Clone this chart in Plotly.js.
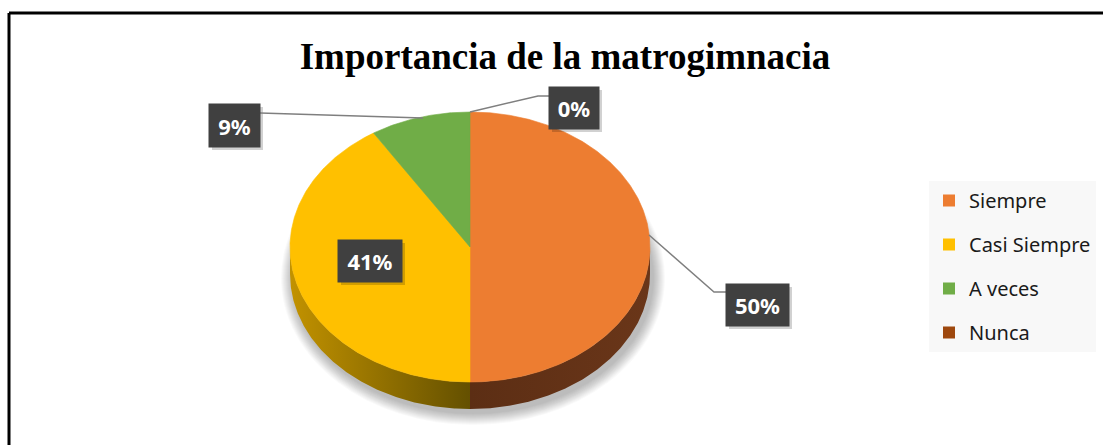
<!DOCTYPE html>
<html>
<head>
<meta charset="utf-8">
<script src="https://cdn.plot.ly/plotly-3.0.1.min.js"></script>
<style>html,body{margin:0;padding:0;background:#fff;}#chart{width:1103px;height:445px;}</style>
</head>
<body>
<div id="chart"></div>
<script>
const categories = ['Siempre', 'Casi Siempre', 'A veces', 'Nunca'];
const values = [50, 41, 9, 0];
const valueLabels = ['50%', '41%', '9%', '0%'];
const topColors = ['#ED7D31', '#FFC000', '#70AD47', '#9E480E'];
const sideColorsLight = ['#6A3619', '#C29200', '#4A7530', '#6A300A'];
const sideColorsDark = ['#5C2E14', '#645000', '#3A5C25', '#5A2808'];
const chartTitle = 'Importancia de la matrogimnacia';

// geometry (pixel space == data space)
const W = 1103, H = 445;
const cx = 470, cy = 247, rx = 180, ry = 135, depth = 27;

function pt(deg, dy) {
  const r = deg * Math.PI / 180;
  return [cx + rx * Math.sin(r), cy - ry * Math.cos(r) + (dy || 0)];
}

const total = values.reduce((a, b) => a + b, 0);
const starts = [], ends = [];
let acc = 0;
values.forEach(v => { starts.push(acc / total * 360); acc += v; ends.push(acc / total * 360); });

const traces = [];

// side walls (front half: 90..270 deg)
values.forEach((v, i) => {
  const a = Math.max(starts[i], 90), b = Math.min(ends[i], 270);
  if (v <= 0 || b <= a) return;
  const xs = [], ys = [];
  for (let d = a; d <= b + 1e-9; d += 0.5) { const p = pt(Math.min(d, b)); xs.push(p[0]); ys.push(p[1]); }
  for (let d = b; d >= a - 1e-9; d -= 0.5) { const p = pt(Math.max(d, a), depth); xs.push(p[0]); ys.push(p[1]); }
  xs.push(xs[0]); ys.push(ys[0]);
  const leftIsLight = (a + b) / 2 > 180;
  traces.push({
    type: 'scatter', mode: 'lines', x: xs, y: ys, fill: 'toself',
    fillgradient: {
      type: 'horizontal',
      colorscale: leftIsLight ? [[0, sideColorsLight[i]], [1, sideColorsDark[i]]]
                              : [[0, sideColorsDark[i]], [1, sideColorsLight[i]]]
    },
    line: { width: 0 }, hoverinfo: 'skip', showlegend: false
  });
});

// top faces
values.forEach((v, i) => {
  if (v <= 0) return;
  const xs = [cx], ys = [cy];
  for (let d = starts[i]; d <= ends[i] + 1e-9; d += 0.5) { const p = pt(Math.min(d, ends[i])); xs.push(p[0]); ys.push(p[1]); }
  const pe = pt(ends[i]); xs.push(pe[0]); ys.push(pe[1]);
  xs.push(cx); ys.push(cy);
  traces.push({
    type: 'scatter', mode: 'lines', x: xs, y: ys, fill: 'toself',
    fillcolor: topColors[i], line: { width: 0.6, color: topColors[i] },
    name: categories[i], hoverinfo: 'name', showlegend: false
  });
});

// legend entries
categories.forEach((c, i) => {
  traces.push({
    type: 'scatter', mode: 'markers', x: [null], y: [null], name: c,
    legendgroup: 'g' + i,
    marker: { symbol: 'square', size: 14, color: topColors[i] }, showlegend: true
  });
});

// label boxes
const labelBoxes = [
  { cxp: 757.5, cyp: 305, w: 63, h: 42 },
  { cxp: 370, cyp: 261, w: 64, h: 42 },
  { cxp: 234.5, cyp: 125.5, w: 51, h: 43 },
  { cxp: 574, cyp: 108, w: 50, h: 42 }
];

const annotations = valueLabels.map((t, i) => ({
  xref: 'x', yref: 'y', x: labelBoxes[i].cxp, y: labelBoxes[i].cyp,
  text: '<b>' + t + '</b>', showarrow: false,
  width: labelBoxes[i].w, height: labelBoxes[i].h, borderpad: 0,
  bgcolor: '#404040', font: { family: 'Noto Sans', size: 22, color: '#ffffff' },
  xanchor: 'center', yanchor: 'middle', align: 'center', valign: 'middle'
}));

const shapes = [];
// soft shadow under the pie
for (let k = 12; k >= 1; k -= 1) {
  shapes.push({
    type: 'circle', xref: 'x', yref: 'y', layer: 'below',
    x0: cx + 3 - rx - k, x1: cx + 3 + rx + k, y0: cy + depth + 4 - ry - k, y1: cy + depth + 4 + ry + k,
    fillcolor: 'rgba(0,0,0,0.022)', line: { width: 0 }
  });
}
// label box drop shadows
labelBoxes.forEach(b => {
  shapes.push({
    type: 'rect', xref: 'x', yref: 'y', layer: 'above',
    x0: b.cxp - b.w / 2 + 3, x1: b.cxp + b.w / 2 + 3, y0: b.cyp - b.h / 2 + 3, y1: b.cyp + b.h / 2 + 3,
    fillcolor: 'rgba(0,0,0,0.18)', line: { width: 0 }
  });
});
// leader lines
const lead = { type: 'path', xref: 'x', yref: 'y', layer: 'above', line: { color: '#7f7f7f', width: 1.5 } };
shapes.push(Object.assign({}, lead, { path: 'M649,235 L714,292 L726,292' }));
shapes.push(Object.assign({}, lead, { path: 'M260,113 L423,118' }));
shapes.push(Object.assign({}, lead, { path: 'M470,112 L538,96 L549,96' }));
// outer frame (top and left)
shapes.push({ type: 'line', xref: 'x', yref: 'y', x0: 9, x1: W, y0: 13, y1: 13, line: { color: '#000', width: 3 } });
shapes.push({ type: 'line', xref: 'x', yref: 'y', x0: 9, x1: 9, y0: 13, y1: H, line: { color: '#000', width: 3 } });

const layout = {
  width: W, height: H, autosize: false,
  margin: { l: 0, r: 0, t: 0, b: 0, pad: 0 },
  paper_bgcolor: '#ffffff', plot_bgcolor: '#ffffff',
  xaxis: { range: [0, W], visible: false, fixedrange: true },
  yaxis: { range: [H, 0], visible: false, fixedrange: true },
  title: {
    text: '<b>' + chartTitle + '</b>',
    font: { family: 'Liberation Serif', size: 37, color: '#000' },
    x: 565 / W, xanchor: 'center', y: 1 - 56 / H, yanchor: 'middle'
  },
  showlegend: true,
  legend: {
    x: 929 / W, y: 1 - 181 / H, xanchor: 'left', yanchor: 'top',
    bgcolor: '#f8f8f8', borderwidth: 0,
    font: { family: 'Noto Sans', size: 20, color: '#1a1a1a' },
    tracegroupgap: 15, itemsizing: 'constant'
  },
  shapes: shapes,
  annotations: annotations
};

Plotly.newPlot('chart', traces, layout, { displayModeBar: false, staticPlot: true });
</script>
</body>
</html>
